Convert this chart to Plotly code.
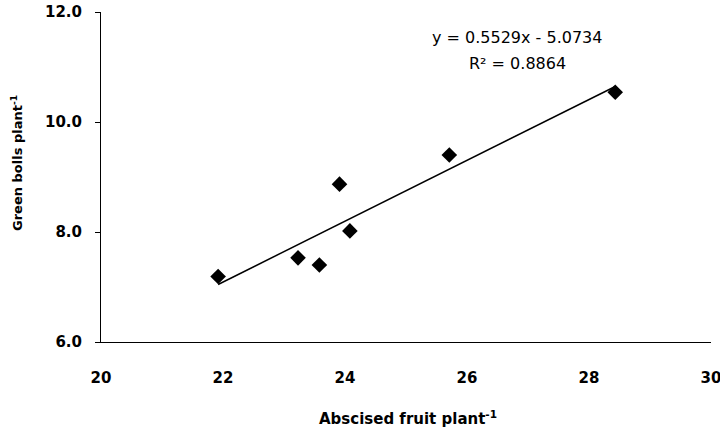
import numpy as np
import plotly.graph_objects as go

# values
abscised = [21.92, 23.23, 23.58, 23.91, 24.08, 25.71, 28.43]
green_bolls = [7.19, 7.53, 7.40, 8.87, 8.02, 9.40, 10.54]
slope, intercept, r2 = 0.5529, -5.0734, 0.8864

x_ticks = [20, 22, 24, 26, 28, 30]
y_ticks = [6.0, 8.0, 10.0, 12.0]

FONT = "DejaVu Sans, sans-serif"

W, H = 720, 431
# plot box in window pixels: x 101..711, y 12..342
L, R, T, B = 101, 711, 12, 342


def px(x):
    return (x - L) / (R - L)


def py(y):
    return (B - y) / (B - T)


fit_x = np.array([min(abscised), max(abscised)])
fit_y = slope * fit_x + intercept

fig = go.Figure()
fig.add_trace(go.Scatter(x=fit_x, y=fit_y, mode="lines",
                         line=dict(color="black", width=1.5), showlegend=False))
fig.add_trace(go.Scatter(x=abscised, y=green_bolls, mode="markers",
                         marker=dict(symbol="diamond", size=12, color="black"),
                         showlegend=False))


def note(x, y, text, size, **kw):
    fig.add_annotation(x=px(x), y=py(y), xref="paper", yref="paper", showarrow=False,
                       xanchor="center", yanchor="middle", text=text,
                       font=dict(family=FONT, size=size, color="black"), **kw)


note(517, 38, f"y = {slope}x - {abs(intercept)}", 16)
note(517, 63, f"R² = {r2}", 16)
note(408, 418, "<b>Abscised fruit plant<sup>-1</sup></b>", 15)
note(17, 163, "<b>Green bolls plant<sup>-1</sup></b>", 13, textangle=-90)

tick_font = dict(family=FONT, size=15, color="black", weight="bold")
fig.update_xaxes(range=[20, 30], tickvals=x_ticks, ticktext=[str(v) for v in x_ticks],
                 showline=True, linecolor="black", linewidth=1, showgrid=False,
                 zeroline=False, ticks="", ticklabelstandoff=22, tickfont=tick_font,
                 ticklabeloverflow="allow", automargin=False)
fig.update_yaxes(range=[6, 12], tickvals=y_ticks, ticktext=[f"{v:.1f}" for v in y_ticks],
                 showline=True, linecolor="black", linewidth=1, showgrid=False,
                 zeroline=False, ticks="outside", ticklen=5, tickcolor="black",
                 ticklabelstandoff=10, tickfont=tick_font, ticklabeloverflow="allow",
                 automargin=False)

fig.update_layout(
    width=W, height=H,
    margin=dict(l=L, r=W - R, t=T, b=H - B),
    plot_bgcolor="white", paper_bgcolor="white",
)

# drop the browser's default 8px body margin so the figure fills the window
fig.write_html("out.html", config={"displayModeBar": False},
               post_script="document.body.style.margin = '0';")
